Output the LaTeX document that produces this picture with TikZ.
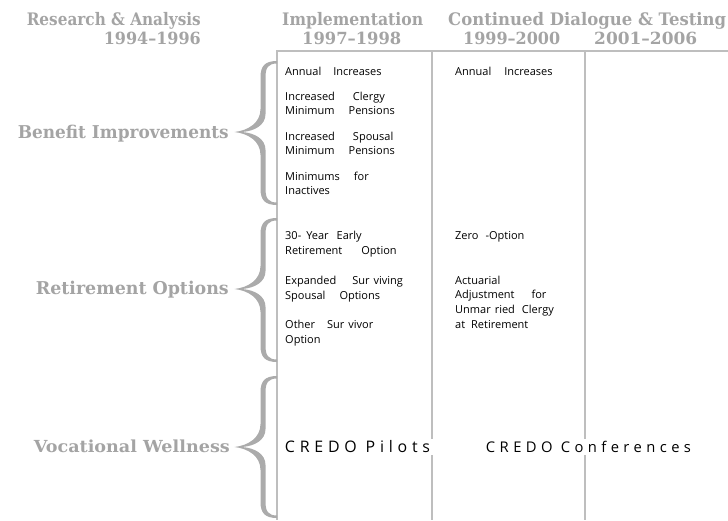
\documentclass[tikz,border=0pt]{standalone}
\usepackage{fontspec}
\usepackage{graphicx}
\setmainfont{Open Sans}
\newfontfamily\hdrfont{DejaVu Serif}
\newfontfamily\credofont[LetterSpace=30]{Open Sans}
\newcommand{\wgap}[1]{\hspace{#1pt}}
\newcommand{\hdrtext}[3]{\resizebox{#1pt}{#2pt}{\hdrfont\bfseries #3}}
\definecolor{hdrgray}{HTML}{A4A4A4}
\definecolor{bracegray}{HTML}{ABABAB}
\definecolor{rulegray}{HTML}{BEBEBE}
\tikzset{
  hdr/.style={text=hdrgray, inner sep=0pt},
  itemtxt/.style={anchor=base west, inner sep=0pt, font=\fontsize{11}{13}\selectfont},
  credo/.style={anchor=center, fill=white, inner xsep=4pt, inner ysep=2pt, font=\fontsize{14}{16}\credofont},
  rulel/.style={draw=rulegray, line width=1.1pt},
  bracefill/.style={fill=bracegray, draw=none},
}
% tapered brace: #1 top y, #2 tip y, #3 bottom y
\newcommand{\bigbrace}[3]{%
  \path[bracefill] (277,#1) .. controls (265,#1) and (260.5,#1+5) .. (260.5,#1+16)
    -- (260.5,#2-23) .. controls (260.5,#2-9) and (248,#2-1.5) .. (234.5,#2)
    .. controls (248,#2+1.5) and (260.5,#2+9) .. (260.5,#2+23)
    -- (260.5,#3-16) .. controls (260.5,#3-5) and (265,#3) .. (277,#3)
    -- (277,#3-2.5) .. controls (268.5,#3-2.5) and (265.5,#3-6.5) .. (265.5,#3-16)
    -- (265.5,#2+18) .. controls (265.5,#2+7) and (255,#2+1) .. (242,#2)
    .. controls (255,#2-1) and (265.5,#2-7) .. (265.5,#2-18)
    -- (265.5,#1+16) .. controls (265.5,#1+6.5) and (268.5,#1+2.5) .. (277,#1+2.5) -- cycle;}
\begin{document}
\begin{tikzpicture}[x=1pt,y=-1pt]
\useasboundingbox (0,0) rectangle (728,520);
% column rules
\coordinate (tl) at (277,51);
\coordinate (tr) at (728,51);
\coordinate (l1b) at (277,520);
\coordinate (l2t) at (432,51);
\coordinate (l2b) at (432,520);
\coordinate (l3t) at (585,51);
\coordinate (l3b) at (585,520);
\draw[rulel] (tr) -- (tl) -- (l1b);
\draw[rulel] (l2t) -- (l2b);
\draw[rulel] (l3t) -- (l3b);
% headers
\node[hdr, anchor=base east] (h1) at (201,25) {\hdrtext{174}{13.1}{Research \& Analysis}};
\node[hdr, anchor=base east] (h1y) at (201,44) {\hdrtext{97}{12.4}{1994–1996}};
\node[hdr, anchor=base west] (h2) at (282,25) {\hdrtext{141}{13.1}{Implementation}};
\node[hdr, anchor=base west] (h2y) at (302,44) {\hdrtext{99}{12.4}{1997–1998}};
\node[hdr, anchor=base west] (h3) at (448,25) {\hdrtext{278}{13.1}{Continued Dialogue \& Testing}};
\node[hdr, anchor=base west] (h3y) at (463,44) {\hdrtext{97}{12.4}{1999–2000}};
\node[hdr, anchor=base west] (h4y) at (594,44) {\hdrtext{103}{12.4}{2001–2006}};
% row labels
\node[hdr, anchor=base east] (rb) at (229,138) {\hdrtext{211}{13.4}{Benefit Improvements}};
\node[hdr, anchor=base east] (rr) at (229,294) {\hdrtext{193}{13.4}{Retirement Options}};
\node[hdr, anchor=base east] (rv) at (230,452) {\hdrtext{196}{12.6}{Vocational Wellness}};
% braces
\bigbrace{61}{132}{205}
\bigbrace{218}{289}{362}
\bigbrace{376}{447}{518}
% column 1 items
\node[itemtxt] (b1) at (285,75) {Annual\wgap{12}Increases};
\node[itemtxt] (b2a) at (285,100.7) {Increased\wgap{18}Clergy};
\node[itemtxt] (b2b) at (285,114) {Minimum\wgap{14}Pensions};
\node[itemtxt] (b3a) at (285,140.7) {Increased\wgap{18}Spousal};
\node[itemtxt] (b3b) at (285,154) {Minimum\wgap{14}Pensions};
\node[itemtxt] (b4a) at (285,180.7) {Minimums\wgap{14}for};
\node[itemtxt] (b4b) at (285,194) {Inactives};
\node[itemtxt] (r1a) at (285,239) {30-\wgap{5}Year\wgap{8}Early};
\node[itemtxt] (r1b) at (285,254) {Retirement\wgap{19}Option};
\node[itemtxt] (r2a) at (285,284) {Expanded\wgap{16}Sur\wgap{4}viving};
\node[itemtxt] (r2b) at (285,299) {Spousal\wgap{14}Options};
\node[itemtxt] (r3a) at (285,328) {Other\wgap{12}Sur\wgap{4}vivor};
\node[itemtxt] (r3b) at (285,343) {Option};
% column 2 items
\node[itemtxt] (c1) at (455,75) {Annual\wgap{13}Increases};
\node[itemtxt] (c2) at (455,239) {Zero\wgap{7}-Option};
\node[itemtxt] (c3a) at (455,284) {Actuarial};
\node[itemtxt] (c3b) at (455,298) {Adjustment\wgap{17}for};
\node[itemtxt] (c3c) at (455,313) {Unmar\wgap{4}ried\wgap{7}Clergy};
\node[itemtxt] (c3d) at (455,328) {at\wgap{6}Retirement};
% CREDO
\node[credo] (cp) at (357.5,447) {\resizebox{145pt}{!}{CREDO Pilots}};
\node[credo] (cc) at (588.5,447) {\resizebox{205pt}{!}{CREDO Conferences}};
\end{tikzpicture}
\end{document}
